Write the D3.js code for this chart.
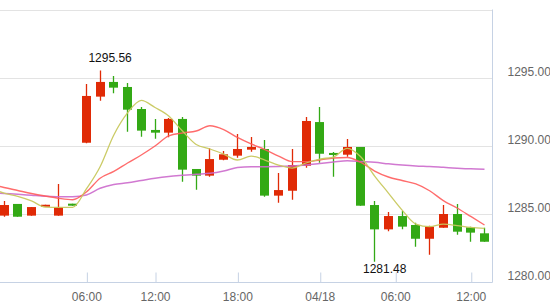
<!DOCTYPE html>
<html>
<head>
<meta charset="utf-8">
<script src="https://cdn.jsdelivr.net/npm/d3@7"></script>
<style>
  body { margin: 0; background: #fff; }
  svg { display: block; font-family: Arial, "Liberation Sans", sans-serif; }
</style>
</head>
<body>
<script>
// hourly candles (index 0 = first visible bar)
var opens  = [1284.88, 1285.74, 1284.88, 1285.61, 1284.88, 1285.76, 1290.24, 1293.63, 1294.71, 1294.34, 1292.72, 1291.18, 1290.98, 1291.99, 1288.31, 1287.82, 1288.99, 1289.29, 1289.73, 1289.78, 1286.35, 1286.71, 1288.55, 1291.76, 1289.49, 1289.36, 1289.93, 1285.66, 1283.87, 1284.85, 1284.19, 1283.18, 1283.99, 1285.00, 1284.02, 1283.58];
var highs  = [1285.96, 1285.74, 1285.51, 1285.68, 1287.21, 1285.76, 1294.56, 1295.56, 1295.15, 1294.63, 1292.87, 1291.99, 1292.06, 1292.13, 1288.31, 1289.83, 1289.63, 1290.88, 1290.66, 1290.44, 1288.01, 1289.78, 1292.13, 1292.87, 1289.56, 1290.51, 1289.93, 1285.96, 1285.15, 1285.22, 1284.36, 1284.14, 1285.66, 1285.74, 1284.07, 1283.99];
var lows   = [1284.80, 1284.80, 1284.88, 1285.61, 1284.87, 1285.61, 1290.20, 1293.33, 1293.88, 1291.05, 1290.68, 1290.54, 1290.64, 1287.38, 1286.79, 1287.74, 1288.95, 1289.14, 1289.58, 1286.27, 1285.83, 1286.05, 1288.40, 1288.77, 1287.74, 1289.21, 1285.61, 1281.48, 1283.73, 1283.87, 1282.60, 1282.01, 1283.99, 1283.48, 1282.96, 1282.96];
var closes = [1285.66, 1284.80, 1285.51, 1285.68, 1285.51, 1285.61, 1293.68, 1294.71, 1294.29, 1292.67, 1291.13, 1290.98, 1291.99, 1288.26, 1287.82, 1289.04, 1289.39, 1289.78, 1289.93, 1286.35, 1286.76, 1288.60, 1291.84, 1289.43, 1289.34, 1289.93, 1285.61, 1283.87, 1284.85, 1284.07, 1283.18, 1284.07, 1285.00, 1283.70, 1283.63, 1282.96];

// moving averages, first value belongs to the bar before index 0
var maStart = -1;
var maShort = [1286.91, 1286.54, 1286.29, 1285.96, 1285.51, 1285.49, 1285.49, 1286.84, 1288.48, 1290.81, 1292.43, 1293.35, 1292.83, 1292.21, 1291.10, 1290.11, 1289.78, 1289.41, 1288.97, 1289.26, 1288.97, 1288.60, 1288.38, 1288.75, 1289.04, 1289.19, 1289.83, 1289.19, 1287.79, 1286.54, 1285.29, 1284.26, 1284.07, 1284.26, 1284.15, 1284.01, 1283.95];
var maMid   = [1287.21, 1286.95, 1286.73, 1286.51, 1286.32, 1286.15, 1286.05, 1286.62, 1287.63, 1288.13, 1288.75, 1289.34, 1290.00, 1290.74, 1290.96, 1291.10, 1291.49, 1291.21, 1290.63, 1290.15, 1289.74, 1289.26, 1288.85, 1288.85, 1288.97, 1289.12, 1289.15, 1288.79, 1288.16, 1287.72, 1287.46, 1287.21, 1286.71, 1285.99, 1285.44, 1284.82, 1284.19];
var maLong  = [1286.58, 1286.51, 1286.45, 1286.38, 1286.31, 1286.27, 1286.27, 1286.40, 1286.89, 1287.17, 1287.29, 1287.46, 1287.63, 1287.76, 1287.85, 1287.93, 1287.99, 1288.16, 1288.42, 1288.48, 1288.48, 1288.49, 1288.53, 1288.60, 1288.71, 1288.82, 1288.92, 1288.86, 1288.80, 1288.69, 1288.60, 1288.53, 1288.49, 1288.43, 1288.37, 1288.32, 1288.29];

// x-axis ticks (bar index position) and labels
var tickIdx    = [6, 11, 17, 23, 28.5, 34];
var tickLabels = ["06:00", "12:00", "18:00", "04/18", "06:00", "12:00"];
var priceTicks = [1280, 1285, 1290, 1295];
var gridVals   = [1285, 1290, 1295, 1300];

var width = 550, height = 307;
var plotRight = 492.5, plotTop = 9.5, plotBottom = 282.5;

var svg = d3.select("body").append("svg")
    .attr("width", width)
    .attr("height", height);

var x = d3.scaleLinear().domain([0, 35]).range([4, 484.5]);
var y = d3.scaleLinear().domain([1280, 1300]).range([282, 10]);

// grid lines
svg.append("g").selectAll("line")
  .data(gridVals)
  .enter().append("line")
    .attr("x1", 0)
    .attr("x2", plotRight)
    .attr("y1", function(d) { return Math.round(y(d)) + 0.5; })
    .attr("y2", function(d) { return Math.round(y(d)) + 0.5; })
    .attr("stroke", "#e3e3e3")
    .attr("stroke-width", 1);

// clip to plot
svg.append("clipPath").attr("id", "plot")
  .append("rect")
    .attr("x", 0).attr("y", plotTop)
    .attr("width", plotRight).attr("height", plotBottom - plotTop);

var plot = svg.append("g").attr("clip-path", "url(#plot)");

var candles = d3.range(opens.length).map(function(i) {
    return {i: i, o: opens[i], h: highs[i], l: lows[i], c: closes[i]};
});

var upColor = "#e02a06", downColor = "#33a915";

var cg = plot.selectAll("g.candle")
  .data(candles)
  .enter().append("g")
    .attr("class", "candle")
    .attr("fill", function(d) { return d.c >= d.o ? upColor : downColor; })
    .attr("stroke", function(d) { return d.c >= d.o ? upColor : downColor; });

cg.append("line")
    .attr("x1", function(d) { return Math.round(x(d.i) - 4.5) + 4.5; })
    .attr("x2", function(d) { return Math.round(x(d.i) - 4.5) + 4.5; })
    .attr("y1", function(d) { return y(d.h); })
    .attr("y2", function(d) { return y(d.l); })
    .attr("stroke-width", 1.3);

cg.append("rect")
    .attr("stroke", "none")
    .attr("x", function(d) { return Math.round(x(d.i) - 4.5); })
    .attr("width", 9)
    .attr("y", function(d) { return y(Math.max(d.o, d.c)); })
    .attr("height", function(d) { return Math.max(2, Math.abs(y(d.o) - y(d.c))); });

// moving average lines
function maLine(vals) {
    return d3.line()
        .x(function(d, k) { return x(k + maStart); })
        .y(function(d) { return y(d); })
        .curve(d3.curveMonotoneX)(vals);
}

plot.append("path").attr("d", maLine(maLong))
    .attr("fill", "none").attr("stroke", "#cc6acc").attr("stroke-width", 1.5).attr("opacity", 0.9);
plot.append("path").attr("d", maLine(maMid))
    .attr("fill", "none").attr("stroke", "#ff5c5c").attr("stroke-width", 1.4).attr("opacity", 0.9);
plot.append("path").attr("d", maLine(maShort))
    .attr("fill", "none").attr("stroke", "#c8c85e").attr("stroke-width", 1.3).attr("opacity", 0.95);

// plot frame: bottom axis + right border
svg.append("line")
    .attr("x1", plotRight).attr("x2", plotRight)
    .attr("y1", plotTop).attr("y2", plotBottom)
    .attr("stroke", "#c6d2e4");

var xAxis = svg.append("g")
    .attr("transform", "translate(0," + plotBottom + ")")
    .call(d3.axisBottom(x)
        .tickValues(tickIdx)
        .tickFormat(function(d, k) { return tickLabels[k]; })
        .tickSizeInner(-10)
        .tickSizeOuter(0)
        .tickPadding(10));
xAxis.select(".domain").remove();
xAxis.append("line")
    .attr("x1", 0).attr("x2", plotRight)
    .attr("stroke", "#c6d2e4");
xAxis.selectAll(".tick line").attr("stroke", "#c6d2e4")
    .attr("transform", "translate(0.5,0)");
xAxis.selectAll("text")
    .attr("fill", "#666")
    .attr("font-size", 12)
    .attr("font-family", "Arial, 'Liberation Sans', sans-serif");

// price labels on the right
var yAxis = svg.append("g")
    .attr("transform", "translate(" + plotRight + ",0)")
    .call(d3.axisRight(y)
        .tickValues(priceTicks)
        .tickFormat(d3.format(".2f"))
        .tickSize(0)
        .tickPadding(15));
yAxis.select(".domain").remove();
yAxis.selectAll("text")
    .attr("y", -6)
    .attr("fill", "#666")
    .attr("font-size", 12)
    .attr("font-family", "Arial, 'Liberation Sans', sans-serif");

// max / min annotations
var iMax = d3.maxIndex(highs), iMin = d3.minIndex(lows);

svg.append("text")
    .attr("x", x(iMax) + 10)
    .attr("y", y(highs[iMax]) - 8.5)
    .attr("text-anchor", "middle")
    .attr("font-size", 12)
    .attr("fill", "#111")
    .text(highs[iMax].toFixed(2));

svg.append("text")
    .attr("x", x(iMin) + 10)
    .attr("y", y(lows[iMin]) + 11)
    .attr("text-anchor", "middle")
    .attr("font-size", 12)
    .attr("fill", "#111")
    .text(lows[iMin].toFixed(2));
</script>
</body>
</html>
